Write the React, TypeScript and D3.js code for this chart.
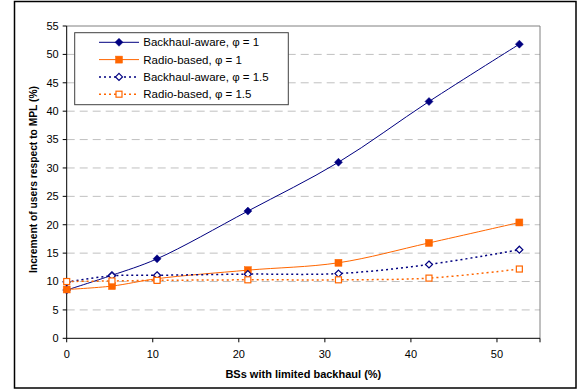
import React from "react";
import * as d3 from "d3";

const xValues = [0, 5.26, 10.5, 21.05, 31.58, 42.1, 52.6];
const backhaulAware1 = [8.5, 11.1, 14.0, 22.4, 31.0, 41.7, 51.8];
const radioBased1 = [8.6, 9.2, 10.5, 12.0, 13.3, 16.8, 20.4];
const backhaulAware15 = [9.9, 11.0, 11.1, 11.3, 11.4, 13.0, 15.6];
const radioBased15 = [10.0, 10.1, 10.2, 10.3, 10.3, 10.6, 12.2];
const xTicks = [0, 10, 20, 30, 40, 50];
const yTicks = [0, 5, 10, 15, 20, 25, 30, 35, 40, 45, 50, 55];
const legendLabels = [
  "Backhaul-aware, \u03c6 = 1",
  "Radio-based, \u03c6 = 1",
  "Backhaul-aware, \u03c6 = 1.5",
  "Radio-based, \u03c6 = 1.5",
];

const NAVY = "#000080";
const ORANGE = "#FF6600";

type Series = {
  values: number[];
  color: string;
  dash?: string;
  marker: "diamond" | "square";
  filled: boolean;
  label: string;
};

const series: Series[] = [
  { values: backhaulAware1, color: NAVY, marker: "diamond", filled: true, label: legendLabels[0] },
  { values: radioBased1, color: ORANGE, marker: "square", filled: true, label: legendLabels[1] },
  { values: backhaulAware15, color: NAVY, marker: "diamond", filled: false, dash: "2 3", label: legendLabels[2] },
  { values: radioBased15, color: ORANGE, marker: "square", filled: false, dash: "2 3", label: legendLabels[3] },
];

function Marker({ x, y, s }: { x: number; y: number; s: Series }) {
  if (s.marker === "diamond") {
    const r = s.filled ? 4 : 3.5;
    return (
      <path
        d={`M${x},${y - r}L${x + r},${y}L${x},${y + r}L${x - r},${y}Z`}
        fill={s.filled ? s.color : "#fff"}
        stroke={s.color}
        strokeWidth={s.filled ? 0.5 : 1.2}
      />
    );
  }
  const h = s.filled ? 3.5 : 3;
  return (
    <rect
      x={x - h}
      y={y - h}
      width={2 * h}
      height={2 * h}
      fill={s.filled ? s.color : "#fff"}
      stroke={s.color}
      strokeWidth={s.filled ? 0.5 : 1.2}
    />
  );
}

export default function App() {
  const W = 579;
  const H = 390;
  const left = 66.7;
  const right = 540;
  const top = 26;
  const bottom = 338.3;
  const x = d3.scaleLinear().domain([0, 55]).range([left, right]);
  const y = d3.scaleLinear().domain([0, 55]).range([bottom, top]);
  const line = d3
    .line<number>()
    .x((_, i) => x(xValues[i]))
    .y((d) => y(d))
    .curve(d3.curveCatmullRom.alpha(0.5));

  const font = "'Liberation Sans', Arial, sans-serif";

  return (
    <svg
      width={W}
      height={H}
      style={{ position: "absolute", left: 0, top: 0, display: "block", background: "#fff" }}
      fontFamily={font}
    >
      <rect x={14.5} y={1.5} width={561.5} height={386.5} fill="#fff" stroke="#000" strokeWidth={1.5} />
      {/* grid */}
      {yTicks
        .filter((t) => t > 0 && t < 55)
        .map((t) => (
          <line
            key={"g" + t}
            x1={left}
            x2={right}
            y1={y(t)}
            y2={y(t)}
            stroke="#C0C0C0"
            strokeWidth={1}
            strokeDasharray="8 5"
          />
        ))}
      {/* plot border top/right */}
      <path d={`M${left},${top}H${right}V${bottom}`} fill="none" stroke="#808080" strokeWidth={1} />
      {/* axes */}
      <line x1={left} x2={left} y1={top} y2={bottom} stroke="#000" strokeWidth={1} />
      <line x1={left} x2={right} y1={bottom} y2={bottom} stroke="#000" strokeWidth={1} />
      {yTicks.map((t) => (
        <g key={"y" + t}>
          <line x1={left - 4} x2={left} y1={y(t)} y2={y(t)} stroke="#000" />
          <text x={left - 8} y={y(t)} dy="0.35em" textAnchor="end" fontSize={11} fill="#000">
            {t}
          </text>
        </g>
      ))}
      {[...xTicks, 55].map((t) => (
        <line key={"xt" + t} x1={x(t)} x2={x(t)} y1={bottom} y2={bottom + 4} stroke="#000" />
      ))}
      {xTicks.map((t) => (
        <text key={"x" + t} x={x(t)} y={bottom + 20} textAnchor="middle" fontSize={11} fill="#000">
          {t}
        </text>
      ))}
      <text
        x={(left + right) / 2}
        y={378}
        textAnchor="middle"
        fontSize={11}
        fontWeight="bold"
        fill="#000"
      >
        BSs with limited backhaul (%)
      </text>
      <text
        transform={`translate(37,179.5) rotate(-90)`}
        textAnchor="middle"
        fontSize={10.5}
        fontWeight="bold"
        fill="#000"
        textLength={187}
        lengthAdjust="spacingAndGlyphs"
      >
        Increment of users respect to MPL (%)
      </text>
      {/* series */}
      {series.map((s, si) => (
        <g key={"s" + si}>
          <path
            d={line(s.values) || ""}
            fill="none"
            stroke={s.color}
            strokeWidth={s.dash ? 1.5 : 1}
            strokeDasharray={s.dash}
          />
        </g>
      ))}
      {series.map((s, si) => (
        <g key={"m" + si}>
          {s.values.map((v, i) => (
            <Marker key={i} x={x(xValues[i])} y={y(v)} s={s} />
          ))}
        </g>
      ))}
      {/* legend */}
      <rect x={74.7} y={32.7} width={213.6} height={72} fill="#fff" stroke="#404040" strokeWidth={1} />
      {series.map((s, i) => {
        const ly = 42.3 + i * 17.3;
        return (
          <g key={"l" + i}>
            <line
              x1={99}
              x2={139}
              y1={ly}
              y2={ly}
              stroke={s.color}
              strokeWidth={s.dash ? 1.5 : 1}
              strokeDasharray={s.dash}
            />
            <Marker x={119} y={ly} s={s} />
            <text x={143.3} y={ly} dy="0.35em" fontSize={11.5} fill="#000">
              {s.label}
            </text>
          </g>
        );
      })}
    </svg>
  );
}
